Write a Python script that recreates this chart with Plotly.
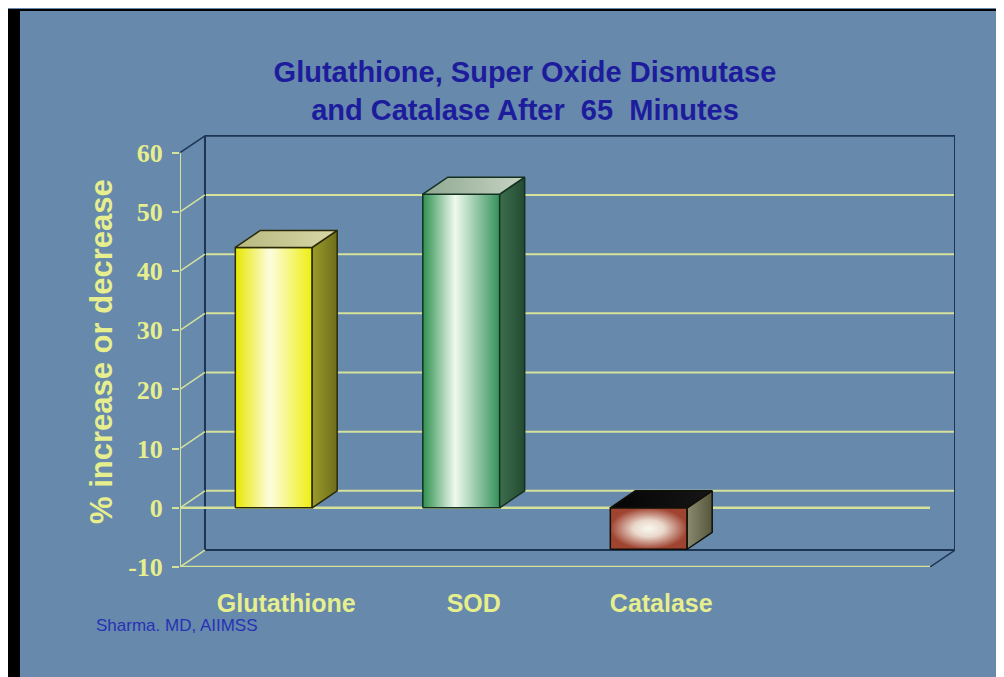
import plotly.graph_objects as go

# ---------------- data ----------------
categories = ["Glutathione", "SOD", "Catalase"]
values = [44, 53, -7]
y_ticks = [-10, 0, 10, 20, 30, 40, 50, 60]
y_tick_labels = ["-10", "0", "10", "20", "30", "40", "50", "60"]
title_lines = ["Glutathione, Super Oxide Dismutase", "and Catalase After  65  Minutes"]
y_title = "% increase or decrease"
source_text = "Sharma. MD, AIIMSS"

# ---------------- styling ----------------
BODY = 8                      # page body margin of the browser
W, H = 1004 - BODY, 677 - BODY
ML, MR, MT, MB = 180 - BODY, 49, 135 - BODY, 110
BG = "#6789ac"
GRID = "#d4e29c"
WALL = "#1d3452"
TXT_Y = "#e6ee8e"
TITLE_C = "#1c1c9c"
SRC_C = "#2632b4"

DX = 0.1333      # depth offset, x units
DY = 2.87        # depth offset, y units
BAR_W = 0.41
X0, X1 = -0.5, 3.5
Y0, Y1 = -10, 60

face_styles = [
    dict(front=[[0, "#e6e600"], [0.45, "#fdfde0"], [1, "#eeee10"]],
         side=[[0, "#9a9a2a"], [1, "#6e6e1c"]],
         top=[[0, "#b8b880"], [1, "#d8d8a8"]], edge="#2a2a08"),
    dict(front=[[0, "#2f9050"], [0.42, "#eefaee"], [1, "#35915a"]],
         side=[[0, "#3c6e4c"], [1, "#244a32"]],
         top=[[0, "#8ea890"], [1, "#c8d4c4"]], edge="#143020"),
    dict(front=[[0, "#f8f8ee"], [0.4, "#ead8cc"], [1, "#a04432"]],
         side=[[0, "#8a8a70"], [1, "#56563c"]],
         top=[[0, "#050505"], [1, "#151515"]], edge="#101008"),
]

fig = go.Figure()


def poly(xs, ys, color=None, grad=None, gtype="horizontal", edge="#222", lw=1.5):
    kw = dict(x=xs + [xs[0]], y=ys + [ys[0]], mode="lines", fill="toself",
              line=dict(color=edge, width=lw), hoverinfo="skip", showlegend=False)
    if grad is not None:
        kw["fillgradient"] = dict(type=gtype, colorscale=grad)
    else:
        kw["fillcolor"] = color
    fig.add_trace(go.Scatter(**kw))


def seg(xs, ys, color, width=2):
    fig.add_trace(go.Scatter(x=xs, y=ys, mode="lines", line=dict(color=color, width=width),
                             hoverinfo="skip", showlegend=False))


# back wall gridlines
for v in y_ticks:
    c = WALL if v in (Y0, Y1) else GRID
    seg([X0 + DX, X1 + DX], [v + DY, v + DY], c, 2)
# back wall vertical edges
seg([X0 + DX, X0 + DX], [Y0 + DY, Y1 + DY], WALL, 2)
seg([X1 + DX, X1 + DX], [Y0 + DY, Y1 + DY], WALL, 2)
# left wall diagonals
for v in y_ticks:
    c = WALL if v == Y1 else GRID
    seg([X0, X0 + DX], [v, v + DY], c, 1.5)
# right floor diagonal
seg([X1, X1 + DX], [Y0, Y0 + DY], WALL, 1.5)
# front axis line, floor edge, zero line
seg([X0, X0], [Y0, Y1], GRID, 2)
seg([X0, X1], [Y0, Y0], GRID, 2.5)
seg([X0, X1], [0, 0], GRID, 2.5)

# bars
for i, (v, st) in enumerate(zip(values, face_styles)):
    lo, hi = min(0, v), max(0, v)
    xl, xr = i - BAR_W / 2, i + BAR_W / 2
    gtype = "radial" if v < 0 else "horizontal"
    poly([xl, xr, xr, xl], [lo, lo, hi, hi], grad=st["front"], gtype=gtype, edge=st["edge"])
    poly([xr, xr + DX, xr + DX, xr], [lo, lo + DY, hi + DY, hi], grad=st["side"], edge=st["edge"])
    poly([xl, xr, xr + DX, xl + DX], [hi, hi, hi + DY, hi + DY], grad=st["top"], edge=st["edge"])


# ---------------- layout ----------------
# helpers convert screen pixel positions (as seen in the page) to paper coordinates
def px2px(px):
    return (px - BODY - ML) / (W - ML - MR)


def py2py(py):
    return (H - MB - (py - BODY)) / (H - MT - MB)


shapes = [
    dict(type="rect", xref="paper", yref="paper", x0=px2px(BODY), x1=px2px(1004), y0=py2py(9),
         y1=py2py(11), fillcolor="black", line=dict(width=0)),
    dict(type="rect", xref="paper", yref="paper", x0=px2px(BODY), x1=px2px(20), y0=py2py(9),
         y1=py2py(700), fillcolor="black", line=dict(width=0)),
]

annotations = [
    dict(text=y_title, xref="paper", yref="paper", x=px2px(101), y=py2py(352), textangle=-90,
         showarrow=False, xanchor="center", yanchor="middle",
         font=dict(family="Liberation Sans, Arial", size=31, color=TXT_Y, weight="bold")),
    dict(text=source_text, xref="paper", yref="paper", x=px2px(94), y=py2py(625),
         showarrow=False, xanchor="left", yanchor="middle",
         font=dict(family="Liberation Sans, Arial", size=17, color=SRC_C)),
]

fig.update_layout(
    width=W, height=H,
    margin=dict(l=ML, r=MR, t=MT, b=MB),
    paper_bgcolor=BG, plot_bgcolor=BG,
    showlegend=False,
    title=dict(text="<br>".join(title_lines), xref="paper", yref="container",
               x=px2px(525), xanchor="center", y=1 - (82 - BODY) / H, yanchor="middle",
               font=dict(family="Liberation Sans, Arial", size=29, color=TITLE_C, weight="bold")),
    shapes=shapes,
    annotations=annotations,
    xaxis=dict(range=[X0, X1 + DX], showgrid=False, zeroline=False, showline=False,
               tickmode="array", tickvals=[i + DX / 2 for i in range(len(categories))],
               ticktext=categories, ticks="", ticklabelstandoff=19,
               tickfont=dict(family="Liberation Sans, Arial", size=25, color=TXT_Y, weight="bold"),
               fixedrange=True),
    yaxis=dict(range=[Y0, 63], showgrid=False, zeroline=False, showline=False,
               tickmode="array", tickvals=y_ticks, ticktext=y_tick_labels,
               ticks="outside", ticklen=7, tickwidth=2, tickcolor=GRID, ticklabelstandoff=4,
               tickfont=dict(family="Liberation Serif, Times New Roman", size=26, color=TXT_Y, weight="bold"),
               fixedrange=True),
)

fig.write_html("out.html")
